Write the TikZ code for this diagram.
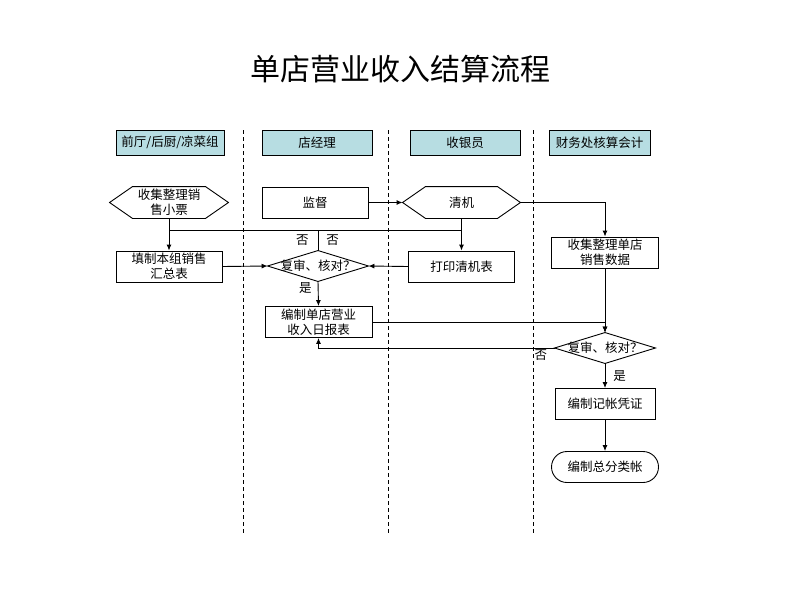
\documentclass[tikz,border=0pt]{standalone}
\usepackage{fontspec}
\setmainfont{Noto Sans CJK SC}
\usepackage{tikz}
\usetikzlibrary{calc}
\usetikzlibrary{arrows.meta}
\definecolor{headcol}{RGB}{183,221,226}

\begin{document}
\begin{tikzpicture}[x=1pt,y=-1pt,line width=0.9pt,
        every node/.style={font=\fontsize{12.5}{15}\selectfont, align=center, inner sep=0pt},
        head/.style={draw, fill=headcol, minimum height=25pt},
        box/.style={draw, minimum width=106pt, minimum height=31pt},
        bare/.style={minimum width=#1, minimum height=31pt},
        flow/.style={-{Latex[length=6pt,width=5pt]}}]
        \useasboundingbox (0,0) rectangle (800,600);

        \node (title) at (400,69) {\fontsize{30}{32}\selectfont 单店营业收入结算流程};

        % lanes
        \node[head, minimum width=108pt] (h1) at (170,142.5) {前厅/后厨/凉菜组};
        \node[head, minimum width=110pt] (h2) at (317,142.5) {店经理};
        \node[head, minimum width=110pt] (h3) at (465,142.5) {收银员};
        \node[head, minimum width=101pt] (h4) at (599.5,142.5) {财务处核算会计};

        \foreach \x in {243,388,533}
            \draw[dash pattern=on 4pt off 3pt] (\x,130) -- (\x,533);

        % steps
        \node[bare=118pt] (piao) at (169,202.5) {收集整理销\\售小票};
        \node[box] (jiandu) at (315,202.5) {监督};
        \node[bare=117pt] (qingji) at (461.5,202.5) {清机};
        \foreach \n in {piao,qingji}
            \draw (\n.west) -- ($(\n.north west)+(23,0)$) -- ($(\n.north east)+(-23,0)$)
                -- (\n.east) -- ($(\n.south east)+(-23,0)$) -- ($(\n.south west)+(23,0)$) -- cycle;

        \node[box] (huizong) at (169,266.5) {填制本组销售\\汇总表};
        \node[bare=100pt, minimum height=30pt] (shen1) at (318,266) {复审、核对？};
        \node[box] (dayin) at (461.5,266.5) {打印清机表};
        \node[box, minimum width=107pt] (shuju) at (605,252.5) {收集整理单店\\销售数据};
        \node[box, minimum width=107pt] (ribao) at (318.5,322) {编制单店营业\\收入日报表};
        \node[bare=100pt, minimum height=30pt] (shen2) at (605,348) {复审、核对？};
        \node[box, minimum width=100pt] (pingzheng) at (605,404) {编制记帐凭证};
        \node[box, rounded corners=15.5pt, minimum width=107pt] (zongzhang) at (605,467) {编制总分类帐};
        \foreach \n in {shen1,shen2}
            \draw (\n.west) -- (\n.north) -- (\n.east) -- (\n.south) -- cycle;

        % connectors
        \coordinate (bar) at (0,230);

        \draw[flow] (jiandu) -- (qingji.west);
        \draw[flow] (qingji.east) -| (shuju.north);
        \draw[flow] (piao.south) -- (huizong.north);
        \draw[flow] (qingji.south) -- (dayin.north);
        \draw (piao.south |- bar) -- (qingji.south |- bar);
        \draw (shen1.north) -- (shen1.north |- bar)
            node [midway, left=9pt] {否} node [midway, right=8pt] {否};

        \draw[flow] (huizong.east) -- (shen1.west);
        \draw[flow] (dayin.west) -- (shen1.east);
        \draw[flow] (shen1.south) -- (ribao.north) node [pos=0.25, left=6pt] {是};

        \draw[flow] (ribao.east) -| (shen2.north);
        \draw[flow] (shuju.south) -- (shen2.north);
        \draw[flow] (shen2.west) -| (ribao.south)
            node [at start, anchor=north east, xshift=-7pt, yshift=-1pt] {否};
        \draw[flow] (shen2.south) -- (pingzheng.north) node [midway, right=8pt] {是};
        \draw[flow] (pingzheng) -- (zongzhang);
    \end{tikzpicture}
\end{document}
